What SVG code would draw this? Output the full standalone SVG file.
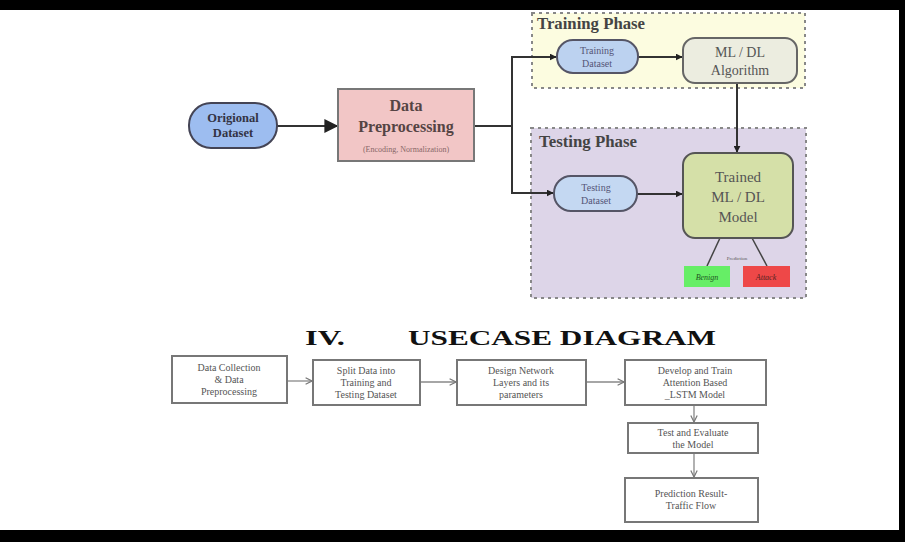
<svg xmlns="http://www.w3.org/2000/svg" width="905" height="542" viewBox="0 0 905 542">
<defs>
<marker id="ah" viewBox="0 0 10 10" refX="9" refY="5" markerWidth="7" markerHeight="7" orient="auto" markerUnits="userSpaceOnUse">
<path d="M0,0 L10,5 L0,10 z" fill="#222"/>
</marker>
<marker id="ahb" viewBox="0 0 10 10" refX="9" refY="5" markerWidth="16" markerHeight="14" orient="auto" markerUnits="userSpaceOnUse">
<path d="M0,0 L10,5 L0,10 z" fill="#222"/>
</marker>
<marker id="ao" viewBox="0 0 10 10" refX="9" refY="5" markerWidth="8" markerHeight="8" orient="auto" markerUnits="userSpaceOnUse">
<path d="M1,1 L9,5 L1,9" fill="none" stroke="#777" stroke-width="1.5"/>
</marker>
</defs>
<style>
text{font-family:"Liberation Serif","DejaVu Serif",serif;text-anchor:middle}
.c{stroke:#333;stroke-width:2;fill:none}
.g{stroke:#888;stroke-width:1.3;fill:none}
.box{fill:#fff;stroke:#777;stroke-width:2}
.bt{font-size:10px;fill:#555}
.phase{stroke:#888;stroke-width:2;stroke-dasharray:3,4}
.ph{font-size:16px;font-weight:bold;fill:#444;text-anchor:start}
</style>
<rect x="0" y="0" width="905" height="542" fill="#fff"/>
<rect x="0" y="0" width="905" height="10" fill="#000"/>
<rect x="0" y="530" width="905" height="12" fill="#000"/>
<rect x="899" y="0" width="6" height="542" fill="#000"/>

<g id="training-phase">
<rect class="phase" x="532" y="13" width="273" height="75" fill="#fcfce0"/>
<text class="ph" x="537" y="29" textLength="108" lengthAdjust="spacingAndGlyphs">Training Phase</text>
</g>
<g id="testing-phase">
<rect class="phase" x="531" y="128" width="275" height="170" fill="#ddd5e8"/>
<text class="ph" x="539" y="147" textLength="98" lengthAdjust="spacingAndGlyphs">Testing Phase</text>
</g>

<g id="connectors">
<line class="c" x1="277" y1="126" x2="337" y2="126" marker-end="url(#ahb)"/>
<polyline class="c" points="474,126 512,126"/>
<polyline class="c" points="512,193 512,57 556,57" marker-end="url(#ah)"/>
<polyline class="c" points="512,126 512,193 553,193" marker-end="url(#ah)"/>
<line class="c" x1="638" y1="57" x2="682" y2="57" marker-end="url(#ah)"/>
<line class="c" x1="737" y1="83" x2="737" y2="152" marker-end="url(#ah)"/>
<line class="c" x1="637" y1="194" x2="682" y2="194" marker-end="url(#ah)"/>
<line stroke="#444" stroke-width="1.5" x1="720" y1="238" x2="707" y2="266"/>
<line stroke="#444" stroke-width="1.5" x1="752" y1="238" x2="767" y2="266"/>
<line class="g" x1="287" y1="381" x2="312" y2="381" marker-end="url(#ao)"/>
<line class="g" x1="420" y1="382" x2="456" y2="382" marker-end="url(#ao)"/>
<line class="g" x1="586" y1="382" x2="624" y2="382" marker-end="url(#ao)"/>
<line class="g" x1="694" y1="405" x2="694" y2="422" marker-end="url(#ao)"/>
<line class="g" x1="694" y1="453" x2="694" y2="477" marker-end="url(#ao)"/>
</g>

<g id="original-dataset">
<rect x="189" y="103" width="88" height="45" rx="22" fill="#9dbdf0" stroke="#445" stroke-width="2"/>
<text x="233" y="122" font-size="12.5" font-weight="bold" fill="#334">Origional</text>
<text x="233" y="137" font-size="12.5" font-weight="bold" fill="#334">Dataset</text>
</g>
<g id="data-preprocessing">
<rect x="338" y="89" width="136" height="72" fill="#f2c6c6" stroke="#777" stroke-width="2"/>
<text x="406" y="111" font-size="16" font-weight="bold" fill="#544">Data</text>
<text x="406" y="132" font-size="16" font-weight="bold" fill="#544">Preprocessing</text>
<text x="406" y="152" font-size="8" fill="#866">(Encoding, Normalization)</text>
</g>
<g id="training-dataset">
<rect x="557" y="40" width="81" height="33" rx="16" fill="#bcd2f0" stroke="#556" stroke-width="2"/>
<text x="597" y="54" font-size="10" fill="#557">Training</text>
<text x="597" y="67" font-size="10" fill="#557">Dataset</text>
</g>
<g id="ml-dl-algorithm">
<rect x="683" y="38" width="114" height="45" rx="12" fill="#ecede0" stroke="#666" stroke-width="2"/>
<text x="740" y="57" font-size="14" fill="#555">ML / DL</text>
<text x="740" y="75" font-size="14" fill="#555">Algorithm</text>
</g>
<g id="testing-dataset">
<rect x="554" y="176" width="83" height="35" rx="17" fill="#c4d8f2" stroke="#556" stroke-width="2"/>
<text x="596" y="191" font-size="10" fill="#557">Testing</text>
<text x="596" y="204" font-size="10" fill="#557">Dataset</text>
</g>
<g id="trained-model">
<rect x="683" y="153" width="110" height="85" rx="12" fill="#d5e0a8" stroke="#555" stroke-width="2"/>
<text x="738" y="182" font-size="15" fill="#555">Trained</text>
<text x="738" y="202" font-size="15" fill="#555">ML / DL</text>
<text x="738" y="222" font-size="15" fill="#555">Model</text>
</g>
<g id="prediction-label">
<text x="737" y="260" font-size="5" fill="#555">Prediction</text>
</g>
<g id="benign">
<rect x="684" y="266" width="46" height="21" fill="#66ee66"/>
<text x="707" y="280" font-size="8" font-style="italic" fill="#252">Benign</text>
</g>
<g id="attack">
<rect x="743" y="266" width="47" height="21" fill="#ee4848"/>
<text x="766" y="280" font-size="8" font-style="italic" fill="#522">Attack</text>
</g>

<g id="heading">
<text x="305" y="345" font-size="22" font-weight="bold" fill="#111" style="text-anchor:start" textLength="40" lengthAdjust="spacingAndGlyphs">IV.</text>
<text x="408" y="345" font-size="22" font-weight="bold" fill="#111" style="text-anchor:start" textLength="308" lengthAdjust="spacingAndGlyphs">USECASE DIAGRAM</text>
</g>

<g id="uc1">
<rect class="box" x="172" y="356" width="115" height="47"/>
<text class="bt" x="229" y="371">Data Collection</text>
<text class="bt" x="229" y="383">&amp; Data</text>
<text class="bt" x="229" y="395">Preprocessing</text>
</g>
<g id="uc2">
<rect class="box" x="313" y="360" width="107" height="45"/>
<text class="bt" x="366" y="374">Split Data into</text>
<text class="bt" x="366" y="386">Training and</text>
<text class="bt" x="366" y="398">Testing Dataset</text>
</g>
<g id="uc3">
<rect class="box" x="457" y="360" width="129" height="45"/>
<text class="bt" x="521" y="374">Design Network</text>
<text class="bt" x="521" y="386">Layers and its</text>
<text class="bt" x="521" y="398">parameters</text>
</g>
<g id="uc4">
<rect class="box" x="625" y="360" width="141" height="45"/>
<text class="bt" x="695" y="374">Develop and Train</text>
<text class="bt" x="695" y="386">Attention Based</text>
<text class="bt" x="695" y="398">_LSTM Model</text>
</g>
<g id="uc5">
<rect class="box" x="628" y="423" width="130" height="30"/>
<text class="bt" x="693" y="436">Test and Evaluate</text>
<text class="bt" x="693" y="448">the Model</text>
</g>
<g id="uc6">
<rect class="box" x="625" y="478" width="133" height="44"/>
<text class="bt" x="691" y="497">Prediction Result-</text>
<text class="bt" x="691" y="509">Traffic Flow</text>
</g>
</svg>
